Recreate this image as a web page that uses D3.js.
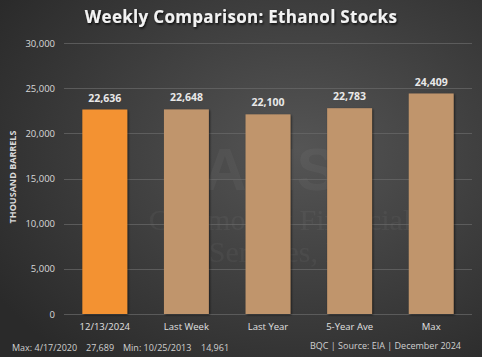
<!DOCTYPE html>
<html><head><meta charset="utf-8">
<script src="https://cdn.jsdelivr.net/npm/d3@7"></script>
<style>html,body{margin:0;padding:0;background:#333;}svg{display:block;}</style>
</head><body>
<script>
const categories = ["12/13/2024","Last Week","Last Year","5-Year Ave","Max"];
const values = [22636, 22648, 22100, 22783, 24409];
const yTicks = [0,5000,10000,15000,20000,25000,30000];
const title = "Weekly Comparison: Ethanol Stocks";
const yTitle = "THOUSAND BARRELS";
const footLeftParts = ["Max: 4/17/2020","27,689","Min: 10/25/2013","14,961"];
const footRight = "BQC | Source: EIA | December 2024";

const W=482,H=357;
const m={l:64,r:10,t:43,b:43};
const svg=d3.select("body").append("svg").attr("width",W).attr("height",H);
const defs=svg.append("defs");
const rg=defs.append("radialGradient").attr("id","bg").attr("cx","62%").attr("cy","42%").attr("r","75%");
rg.append("stop").attr("offset","0%").attr("stop-color","#555555");
rg.append("stop").attr("offset","100%").attr("stop-color","#2a2a2a");
const f=defs.append("filter").attr("id","sh").attr("x","-20%").attr("y","-20%").attr("width","150%").attr("height","150%");
f.append("feDropShadow").attr("dx",1).attr("dy",1).attr("stdDeviation",1.2).attr("flood-color","#000").attr("flood-opacity",0.6);
const ft=defs.append("filter").attr("id","tsh").attr("x","-10%").attr("y","-30%").attr("width","120%").attr("height","160%");
ft.append("feDropShadow").attr("dx",1).attr("dy",1.5).attr("stdDeviation",1.2).attr("flood-color","#000").attr("flood-opacity",0.8);

svg.append("rect").attr("width",W).attr("height",H).attr("fill","url(#bg)");

const x=d3.scaleBand().domain(categories).range([m.l,W-m.r]).paddingInner(0.45).paddingOuter(0.225);
const y=d3.scaleLinear().domain([0,30000]).range([H-m.b,m.t]);

// watermark
const wm=svg.append("g").attr("fill","#ffffff").attr("opacity",0.035).attr("font-family","Liberation Serif, serif");
wm.append("text").attr("x",270).attr("y",190).attr("text-anchor","middle").attr("font-size",60).attr("font-weight","bold").attr("font-family","Liberation Sans, sans-serif").text("AMS");
wm.append("text").attr("x",280).attr("y",230).attr("text-anchor","middle").attr("font-size",30).text("Commodity Financial");
wm.append("text").attr("x",290).attr("y",262).attr("text-anchor","middle").attr("font-size",30).text("Services, Inc.");

// grid
svg.append("g").selectAll("line").data(yTicks).join("line")
 .attr("x1",m.l).attr("x2",W-m.r).attr("y1",d=>Math.round(y(d))+0.5).attr("y2",d=>Math.round(y(d))+0.5)
 .attr("stroke","#6a6a6a").attr("stroke-width",1).attr("opacity",0.7);

const yAxis=d3.axisLeft(y).tickValues(yTicks).tickFormat(d3.format(",")).tickSize(0).tickPadding(9);
const ga=svg.append("g").attr("transform",`translate(${m.l},0)`).call(yAxis);
ga.select(".domain").remove();
ga.selectAll("text").attr("fill","#d9d9d9").attr("font-size",9.5).attr("font-family","Open Sans, sans-serif");

// bars
svg.append("g").selectAll("rect").data(values).join("rect")
 .attr("x",(d,i)=>x(categories[i])).attr("width",x.bandwidth())
 .attr("y",d=>y(d)).attr("height",d=>y(0)-y(d))
 .attr("fill",(d,i)=>i===0?"#f39233":"#c0956c").attr("filter","url(#sh)");

// labels
svg.append("g").selectAll("text").data(values).join("text")
 .attr("x",(d,i)=>x(categories[i])+x.bandwidth()/2).attr("y",d=>y(d)-8)
 .attr("text-anchor","middle").attr("fill","#e8e8e8").attr("font-size",10.5).attr("font-weight","bold")
 .attr("font-family","Open Sans, sans-serif").text(d=>d3.format(",")(d));

const xAxis=d3.axisBottom(x).tickSize(0).tickPadding(9);
const gx=svg.append("g").attr("transform",`translate(0,${y(0)})`).call(xAxis);
gx.select(".domain").remove();
gx.selectAll("text").attr("fill","#e0e0e0").attr("font-size",9.5).attr("font-family","Open Sans, sans-serif");

svg.append("text").attr("x",241).attr("y",23).attr("text-anchor","middle").attr("fill","#f2f2f2")
 .attr("font-size",17).attr("font-weight","bold").attr("font-family","Open Sans, sans-serif")
 .attr("letter-spacing",0.3).attr("filter","url(#tsh)").text(title);

svg.append("text").attr("transform","translate(16,177) rotate(-90)").attr("text-anchor","middle")
 .attr("fill","#d9d9d9").attr("font-size",9).attr("font-weight","bold").attr("font-family","Open Sans, sans-serif").text(yTitle);

const fl=svg.append("text").attr("y",351).attr("fill","#d0d0d0").attr("font-size",9).attr("font-family","Open Sans, sans-serif");
const flx=[12,86,123,201];
fl.selectAll("tspan").data(footLeftParts).join("tspan").attr("x",(d,i)=>flx[i]).text(d=>d);
svg.append("text").attr("x",461).attr("y",349).attr("text-anchor","end").attr("fill","#d0d0d0").attr("font-size",9)
 .attr("font-family","Open Sans, sans-serif").text(footRight);
</script>
</body></html>
